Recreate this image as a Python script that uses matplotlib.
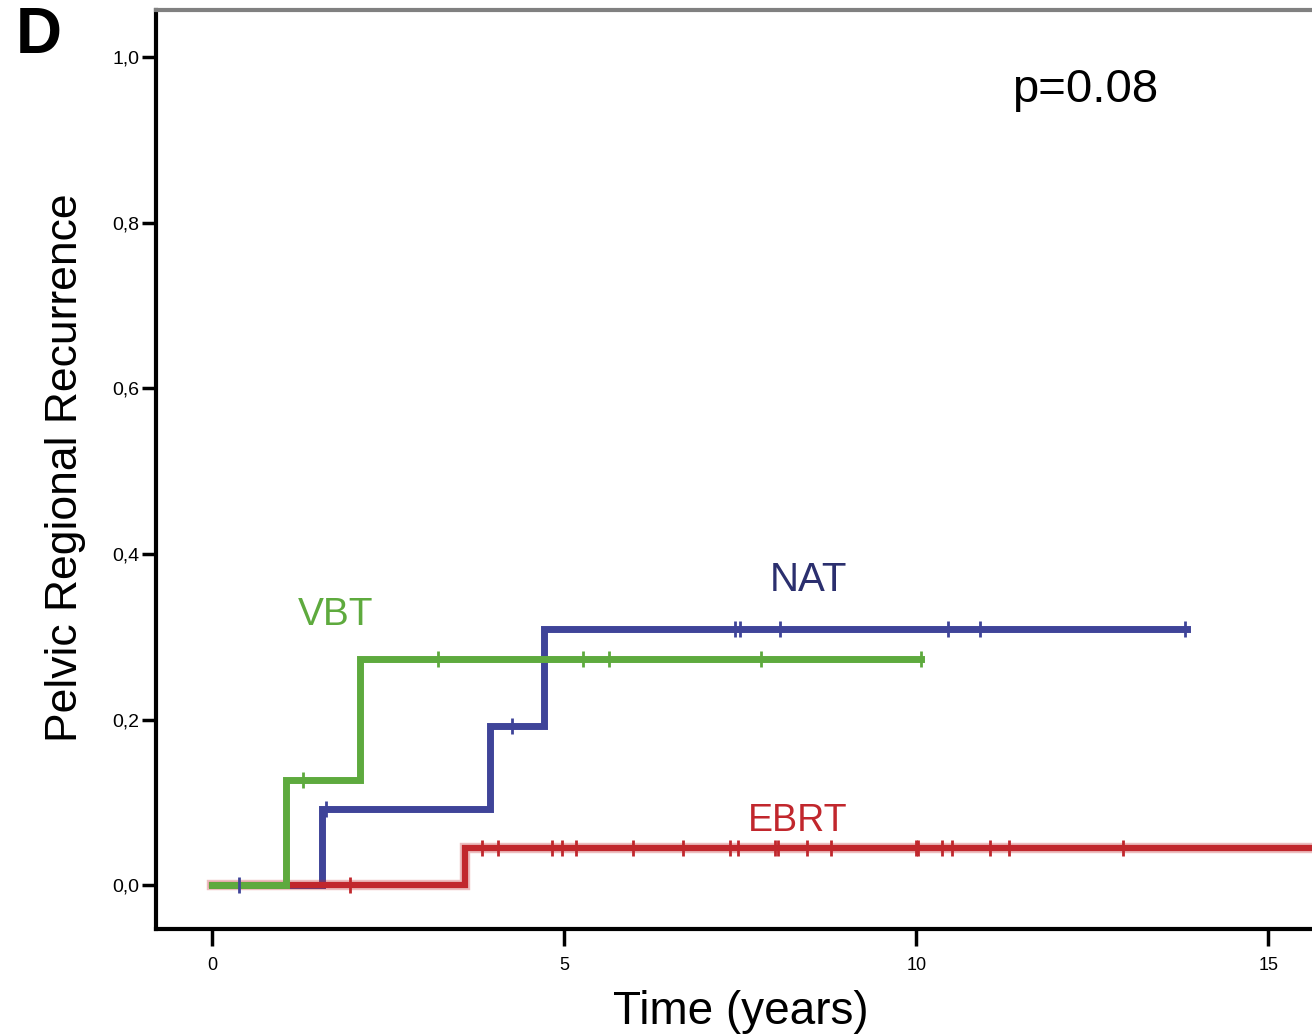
import numpy as np
import matplotlib
matplotlib.use("Agg")
import matplotlib.pyplot as plt
from matplotlib.ticker import FuncFormatter

plt.rcParams["font.family"] = ["Liberation Sans", "DejaVu Sans"]

# cumulative pelvic regional recurrence, step curves (time in years)
vbt_t = [0, 1.04, 2.10, 10.06]
vbt_y = [0, 0.127, 0.273, 0.273]
vbt_cens = [1.29, 3.21, 5.26, 5.64, 7.80, 10.06]

nat_t = [0, 1.56, 3.95, 4.71, 13.85]
nat_y = [0, 0.092, 0.192, 0.309, 0.309]
nat_cens = [0.38, 1.62, 4.26, 7.43, 7.49, 8.07, 10.45, 10.91, 13.81]

ebrt_t = [0, 3.59, 16.5]
ebrt_y = [0, 0.045, 0.045]
ebrt_cens = [1.96, 3.83, 4.06, 4.83, 4.97, 5.17, 5.98, 6.69, 7.36, 7.46, 7.99,
             8.03, 8.45, 8.79, 9.99, 10.03, 10.37, 10.51, 11.04, 11.32, 12.94]

x_ticks = [0, 5, 10, 15]
y_ticks = [0.0, 0.2, 0.4, 0.6, 0.8, 1.0]

GREEN = "#5EAA3E"
BLUE = "#3F4499"
RED = "#C1272D"


def step_at(t_arr, y_arr, t):
    i = np.searchsorted(t_arr, t, side="right") - 1
    return np.asarray(y_arr)[i]


fig = plt.figure(figsize=(13.12, 10.35), dpi=100)
ax = fig.add_axes([0.1189, 0.1024, 0.8811, 0.888])

# curves: blue under red under green
ax.plot(nat_t, nat_y, drawstyle="steps-post", color=BLUE, lw=5, zorder=1,
        solid_joinstyle="miter")
ax.plot(ebrt_t, ebrt_y, drawstyle="steps-post", color=RED, lw=7.5, alpha=0.3,
        zorder=2, solid_joinstyle="miter")
ax.plot(ebrt_t, ebrt_y, drawstyle="steps-post", color=RED, lw=4.5, zorder=2,
        solid_joinstyle="miter")
ax.plot(vbt_t, vbt_y, drawstyle="steps-post", color=GREEN, lw=5, zorder=3,
        solid_joinstyle="miter")

# censor marks
for t, y, cens, c in [(nat_t, nat_y, nat_cens, BLUE),
                      (ebrt_t, ebrt_y, ebrt_cens, RED),
                      (vbt_t, vbt_y, vbt_cens, GREEN)]:
    cy = [step_at(t, y, v) for v in cens]
    ax.plot(cens, cy, ls="none", marker="|", ms=12, mew=2, color=c, zorder=5)

ax.text(1.75, 0.326, "VBT", color=GREEN, fontsize=28, ha="center", va="center")
ax.text(8.47, 0.368, "NAT", color="#2B2F6E", fontsize=29, ha="center", va="center")
ax.text(8.32, 0.078, "EBRT", color=RED, fontsize=27, ha="center", va="center")
ax.text(12.4, 0.96, "p=0.08", color="black", fontsize=34, ha="center", va="center")

ax.set_xlim(-0.8, 15.62)
ax.set_ylim(-0.053, 1.057)
ax.set_xticks(x_ticks)
ax.set_yticks(y_ticks)
ax.yaxis.set_major_formatter(FuncFormatter(lambda v, p: f"{v:.1f}".replace(".", ",")))
ax.tick_params(axis="both", width=2.5, direction="out")
ax.tick_params(axis="x", length=12, labelsize=13, pad=8)
ax.tick_params(axis="y", length=10, labelsize=14, pad=2)

for s in ["left", "bottom"]:
    ax.spines[s].set_linewidth(3)
ax.spines["top"].set_linewidth(3)
ax.spines["top"].set_color("#808080")
ax.spines["right"].set_visible(False)

ax.set_xlabel("Time (years)", fontsize=33, va="center")
ax.xaxis.set_label_coords(0.506, -0.09)
ax.set_ylabel("Pelvic Regional Recurrence", fontsize=32, va="center")
ax.yaxis.set_label_coords(-0.0787, 0.502)

fig.text(0.012, 0.965, "D", fontsize=46, fontweight="bold", ha="left", va="center")

fig.savefig("out.png", dpi=100)
